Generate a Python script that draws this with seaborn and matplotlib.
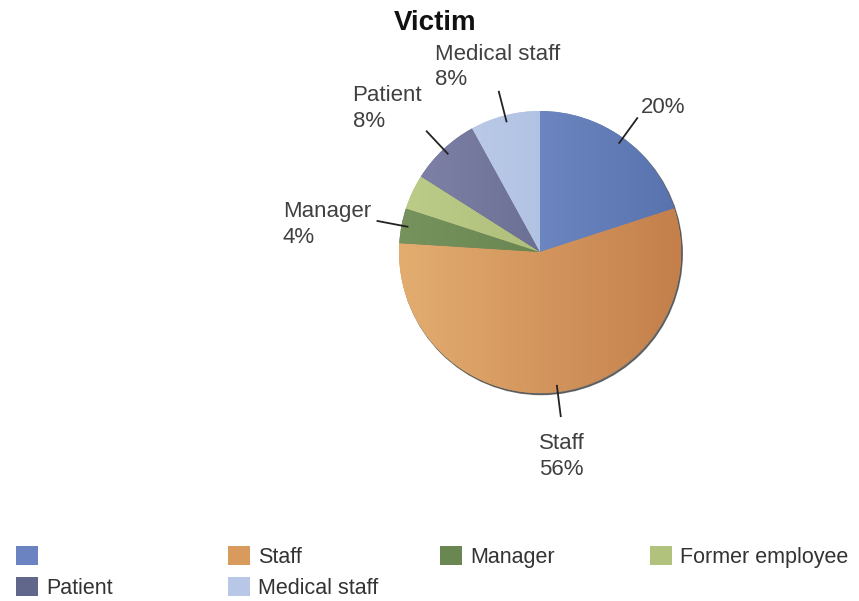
import numpy as np
import matplotlib.pyplot as plt
import seaborn as sns
from matplotlib.colors import to_rgb
from matplotlib.patches import Patch, Circle

# chart data
categories = ['', 'Staff', 'Manager', 'Former employee', 'Patient', 'Medical staff']
counts = [5, 14, 1, 1, 2, 2]
show_label = [True, True, True, False, True, True]

# slice colours: left (light) and right (dark) ends of the gradient
light = ['#8099d3', '#e3ad70', '#76925d', '#bccc89', '#8184a8', '#c2d0ec']
dark = ['#5872ad', '#c47f4b', '#5d7b48', '#a2b36d', '#565b80', '#a3b5da']
legend_colors = ['#6b84c1', '#d99a5e', '#6a8651', '#b1c27c', '#61668b', '#b8c7e7']

sns.set_theme(style='white')
plt.rcParams['font.family'] = ['Liberation Sans', 'DejaVu Sans']

W, H = 859, 601
fig = plt.figure(figsize=(W / 100, H / 100), dpi=100)

cx, cy, R = 540, 252, 141
box = 1.35
ax = fig.add_axes([(cx - box * R) / W, (H - cy - box * R) / H,
                   2 * box * R / W, 2 * box * R / H])

# thin shadow rim at the lower right
ax.add_patch(Circle((0.009, -0.011), 1.0, color='#3a3a3a', alpha=0.7, zorder=0))

wedges, _ = ax.pie(counts, colors=legend_colors, startangle=90, counterclock=False,
                   radius=1, wedgeprops=dict(linewidth=0))

xs = np.linspace(0, 1, 256)
for w, lo, hi in zip(wedges, light, dark):
    c0, c1 = np.array(to_rgb(lo)), np.array(to_rgb(hi))
    grad = c0[None, :] * (1 - xs[:, None]) + c1[None, :] * xs[:, None]
    im = ax.imshow(grad[None, :, :], extent=(-1, 1, -1, 1), aspect='auto',
                   zorder=2, interpolation='bilinear')
    im.set_clip_path(w)

total = sum(counts)
for w, name, c, show in zip(wedges, categories, counts, show_label):
    if not show:
        continue
    a = np.deg2rad((w.theta1 + w.theta2) / 2)
    ca, sa = np.cos(a), np.sin(a)
    ax.plot([0.95 * ca, 1.18 * ca], [0.95 * sa, 1.18 * sa], color='#222222',
            lw=1.3, zorder=3, solid_capstyle='butt')
    pct = round(100 * c / total)
    txt = f'{name}\n{pct}%' if name else f'{pct}%'
    ha = 'left' if ca > 0.35 else ('right' if ca < -0.35 else 'center')
    va = 'bottom' if sa > 0.35 else ('top' if sa < -0.35 else 'center')
    dy = -0.035 if va != 'top' else -0.075
    ax.text(1.22 * ca, 1.22 * sa + dy, txt, ha=ha, va=va, multialignment='left',
            fontsize=16, color='#404040', zorder=4, linespacing=1.3)

ax.set_xlim(-box, box)
ax.set_ylim(-box, box)
ax.set_aspect('equal')
ax.axis('off')

fig.text(435 / W, 1 - 10 / H, 'Victim', ha='center', va='top', fontsize=20,
         fontweight='bold', color='#111111')

# legend laid out in 4 columns, filled row by row
col_x = [16, 228, 440, 650]
for col in range(4):
    idx = [i for i in range(len(categories)) if i % 4 == col]
    handles = [Patch(facecolor=legend_colors[i], edgecolor='none') for i in idx]
    fig.legend(handles, [categories[i] for i in idx], loc='upper left',
               bbox_to_anchor=(col_x[col] / W, 1 - 546 / H), frameon=False,
               fontsize=15.5, handlelength=1.0, handleheight=1.0,
               handletextpad=0.4, labelspacing=0.4, borderpad=0,
               borderaxespad=0, labelcolor='#333333')

fig.savefig('out.png', dpi=100)
